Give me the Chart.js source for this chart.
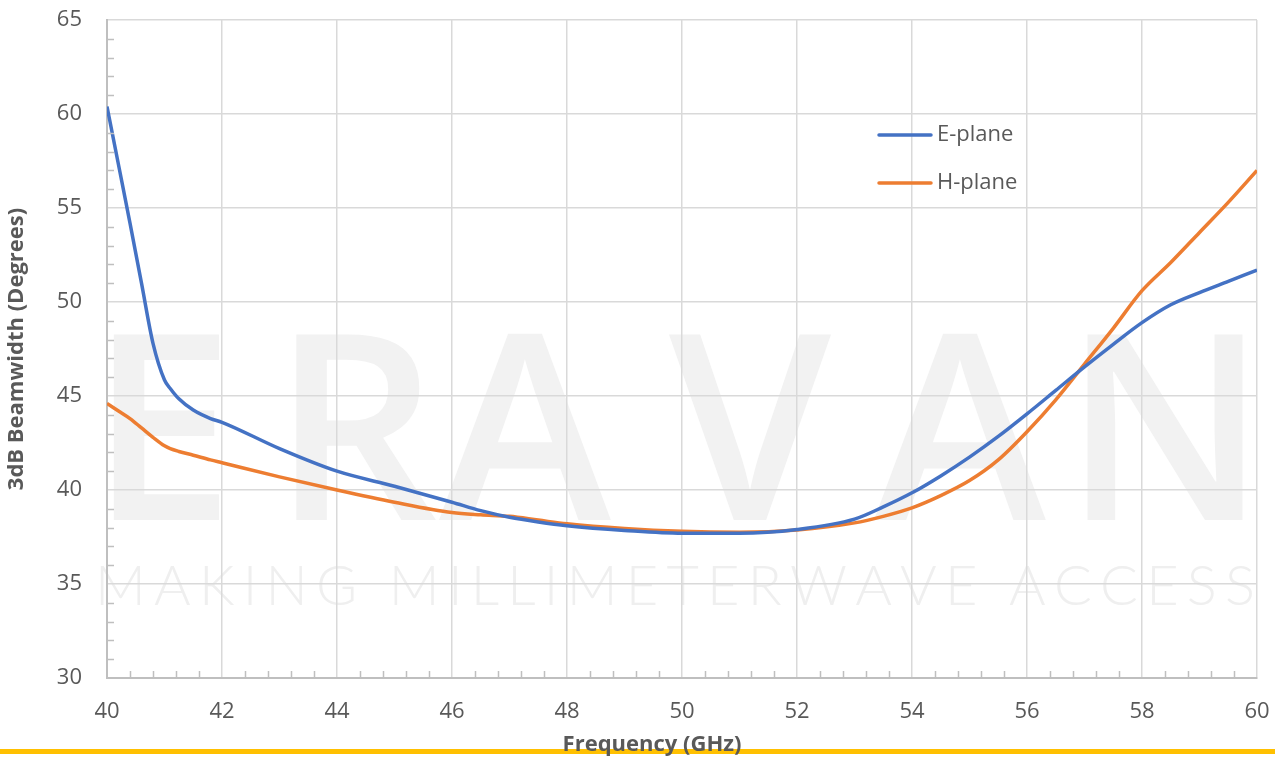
<!DOCTYPE html>
<html>
<head>
<meta charset="utf-8">
<script src="https://cdn.jsdelivr.net/npm/chart.js@4.4.1/dist/chart.umd.min.js"></script>
<style>
  html, body { margin: 0; padding: 0; background: #fff; }
  #wrap { width: 1275px; height: 760px; }
</style>
</head>
<body>
<div id="wrap"><canvas id="beamChart" width="1275" height="760"></canvas></div>
<script>
// values
const freq = [40, 40.2, 40.4, 40.6, 40.8, 41, 41.1, 41.25, 41.5, 41.8, 42, 43, 44, 45, 46, 46.5, 47, 47.5, 48, 49, 50,
  51, 52, 53, 53.5, 54, 54.5, 55, 55.5, 56, 56.5, 57, 57.5, 58, 58.5, 59, 59.5, 60];
const ePlane = [60.4, 57.3, 54.2, 51.0, 47.8, 45.85, 45.4, 44.85, 44.25, 43.8, 43.6, 42.2, 41.0, 40.2, 39.35, 38.9, 38.55, 38.3, 38.1, 37.85, 37.7,
  37.7, 37.9, 38.45, 39.1, 39.85, 40.75, 41.75, 42.85, 44.05, 45.3, 46.55, 47.75, 48.9, 49.85, 50.5, 51.1, 51.7];
const hPlane = [44.6, 44.2, 43.8, 43.3, 42.8, 42.35, 42.2, 42.05, 41.85, 41.6, 41.45, 40.7, 40.0, 39.35, 38.8, 38.68, 38.6, 38.4, 38.2, 37.95, 37.8,
  37.75, 37.87, 38.25, 38.6, 39.05, 39.7, 40.5, 41.6, 43.1, 44.8, 46.7, 48.6, 50.6, 52.1, 53.7, 55.3, 57.0];
const seriesNames = ["E-plane", "H-plane"];
const xTicks = [40, 42, 44, 46, 48, 50, 52, 54, 56, 58, 60];
const yTicks = [30, 35, 40, 45, 50, 55, 60, 65];
const xTitle = "Frequency (GHz)";

const blue = "#4472C4";
const orange = "#ED7D31";
const fam = "'Open Sans', 'Noto Sans', sans-serif";
const tickFont = { family: fam, size: 22 };

// page background, watermark, yellow rule, minor ticks and legend
const backdrop = {
  id: "backdrop",
  beforeDraw(chart) {
    const c = chart.ctx;
    c.save();
    c.fillStyle = "#fff";
    c.fillRect(0, 0, chart.width, chart.height);

    c.fillStyle = "#f2f2f2";
    c.font = "600 260px " + fam;
    c.textAlign = "center";
    c.textBaseline = "alphabetic";
    const letters = ["E", "R", "A", "V", "A", "N"];
    const lx = [162, 355, 525, 750, 960, 1165];
    letters.forEach((l, i) => c.fillText(l, lx[i], 520));

    const tag = "MAKING MILLIMETERWAVE ACCESS";
    c.fillStyle = "#efefef";
    c.font = "300 56px Lato, " + fam;
    c.textAlign = "left";
    let w = 0;
    for (const ch of tag) w += c.measureText(ch).width;
    const gap = (1255 - 95 - w) / (tag.length - 1);
    let px = 95;
    for (const ch of tag) {
      c.fillText(ch, px, 605);
      px += c.measureText(ch).width + gap;
    }

    c.fillStyle = "#FFC000";
    c.fillRect(0, 749, chart.width, 5);
    c.restore();
  },
  afterDatasetsDraw(chart) {
    const c = chart.ctx;
    const xs = chart.scales.x, ys = chart.scales.y;
    c.save();
    c.strokeStyle = "#bfbfbf";
    c.lineWidth = 1.5;
    for (let v = 31; v < 65; v++) {
      if (v % 5 === 0) continue;
      const py = Math.round(ys.getPixelForValue(v)) + 0.5;
      c.beginPath(); c.moveTo(xs.left, py); c.lineTo(xs.left + 7, py); c.stroke();
    }
    for (let k = 1; k < 50; k++) {
      if (k % 5 === 0) continue;
      const pxv = Math.round(xs.getPixelForValue(40 + k * 0.4)) + 0.5;
      c.beginPath(); c.moveTo(pxv, ys.bottom); c.lineTo(pxv, ys.bottom - 7); c.stroke();
    }

    const colors = [blue, orange];
    const ly = [135, 183];
    c.font = "22px " + fam;
    c.textBaseline = "middle";
    c.textAlign = "left";
    seriesNames.forEach((n, i) => {
      c.strokeStyle = colors[i];
      c.lineWidth = 3.5;
      c.lineCap = "round";
      c.beginPath(); c.moveTo(879, ly[i]); c.lineTo(931, ly[i]); c.stroke();
      c.fillStyle = "#595959";
      c.fillText(n, 937, ly[i]);
    });

    // x axis title sits left of centre in the original
    c.font = "bold 22px " + fam;
    c.textAlign = "center";
    c.fillStyle = "#595959";
    c.fillText(xTitle, 652, 745);
    c.restore();
  }
};

const data = {
  datasets: [
    {
      label: seriesNames[0],
      data: freq.map((f, i) => ({ x: f, y: ePlane[i] })),
      borderColor: blue,
      backgroundColor: blue,
      borderWidth: 3.5,
      pointRadius: 0,
      cubicInterpolationMode: "monotone",
      fill: false,
    },
    {
      label: seriesNames[1],
      data: freq.map((f, i) => ({ x: f, y: hPlane[i] })),
      borderColor: orange,
      backgroundColor: orange,
      borderWidth: 3.5,
      pointRadius: 0,
      cubicInterpolationMode: "monotone",
      fill: false,
    },
  ],
};

const config = {
  type: "line",
  data: data,
  options: {
    responsive: false,
    animation: false,
    devicePixelRatio: 1,
    layout: { padding: { left: 0, right: 18, top: 20, bottom: 0 } },
    plugins: { legend: { display: false }, tooltip: { enabled: false } },
    scales: {
      x: {
        type: "linear",
        min: 40,
        max: 60,
        afterBuildTicks(scale) { scale.ticks = xTicks.map(v => ({ value: v })); },
        afterFit(scale) { scale.height = 82; scale.paddingLeft = 0; scale.paddingRight = 0; },
        grid: { color: "#d9d9d9", lineWidth: 1.5, drawTicks: false },
        border: { color: "#bfbfbf", width: 2 },
        ticks: { color: "#595959", font: tickFont, padding: 21, maxRotation: 0 },
      },
      y: {
        min: 30,
        max: 65,
        afterBuildTicks(scale) { scale.ticks = yTicks.map(v => ({ value: v })); },
        afterFit(scale) { scale.width = 107; scale.paddingTop = 0; scale.paddingBottom = 0; },
        grid: { color: "#d9d9d9", lineWidth: 1.5, drawTicks: false },
        border: { color: "#bfbfbf", width: 2 },
        ticks: { color: "#595959", font: tickFont, padding: 25 },
        title: {
          display: true,
          text: "3dB Beamwidth (Degrees)",
          color: "#595959",
          font: { family: fam, size: 22, weight: "bold" },
          padding: { top: 4, bottom: 0 },
        },
      },
    },
  },
  plugins: [backdrop],
};

const ctx = document.getElementById("beamChart").getContext("2d");
const beamChart = new Chart(ctx, config);
</script>
</body>
</html>
